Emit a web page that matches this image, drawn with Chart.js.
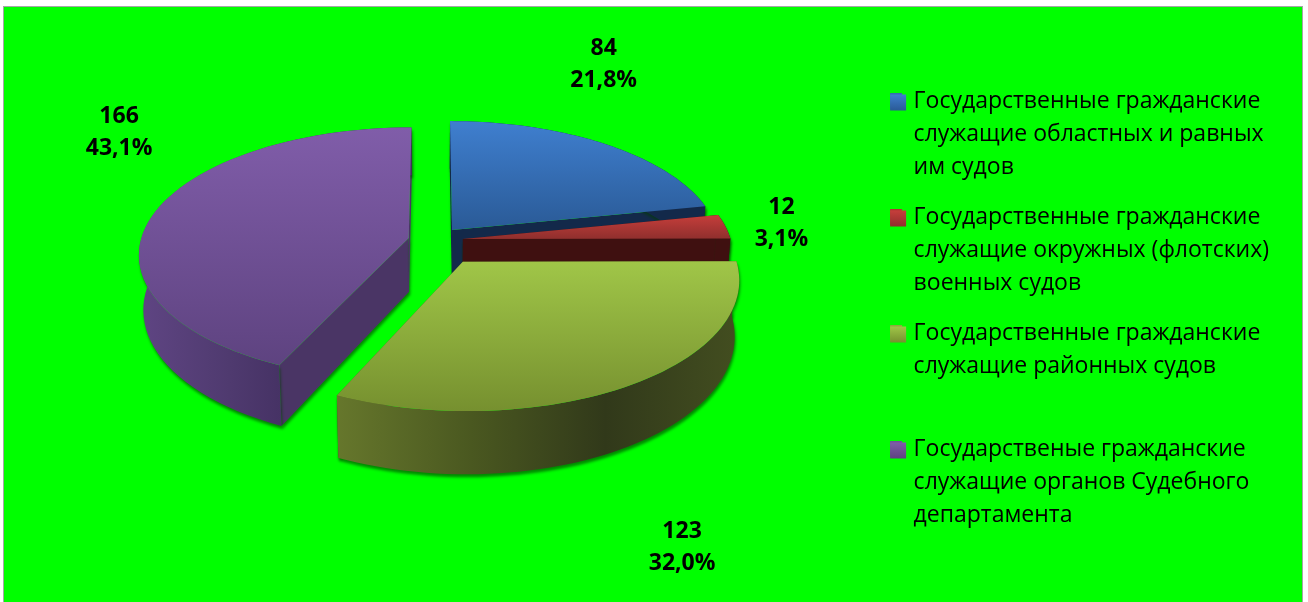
<!DOCTYPE html>
<html>
<head>
<meta charset="utf-8">
<title>Гражданские служащие</title>
<script src="https://cdn.jsdelivr.net/npm/chart.js@4"></script>
<style>
  html, body { margin: 0; padding: 0; background: #fff; overflow: hidden; }
  #frame { position: absolute; left: 3px; top: 6px; width: 1298px; height: 596px; background: #00ff00; border: 1px solid #a6a6a6; border-bottom: 0; }
  #pie { position: absolute; left: 0; top: 0; }
</style>
</head>
<body>
<div id="frame"></div>
<canvas id="pie" width="1308" height="602"></canvas>
<script>
// DATA
const categories = [
  ["Государственные гражданские", "служащие областных и равных", "им судов"],
  ["Государственные гражданские", "служащие окружных (флотских)", "военных судов"],
  ["Государственные гражданские", "служащие районных судов", ""],
  ["Государственые гражданские", "служащие органов Судебного", "департамента"]
];
const values = [84, 12, 123, 166];
const percentLabels = ["21,8%", "3,1%", "32,0%", "43,1%"];

// STYLE
const explode = [29, 29, 52, 25];
const legendColors = ["#376cb0", "#b23634", "#8cab3d", "#6f519a"];
const topColors = [["#3f7fcf", "#2a5a96"], ["#c63e3b", "#8f2f2d"], ["#a0c648", "#76902f"], ["#805da9", "#5e4380"]];
const wallColors = [
  ["#13294a", "#13294a"],
  ["#3f1010", "#3f1010"],
  ["#66772c", "#4a5820", "#31391a", "#434e20"],
  ["#5f4583", "#4f3a6f", "#3f2c5d", "#43305f"]
];
const endWallColors = ["#13294a", "#3f1010", "#4a5820", "#4a3565"];
const labelShift = [[0, -79], [56, -3], [50, 163], [-36, -80]];
const drawOrder = [0, 1, 3, 2];

// fake 3D view of the pie plane
const view = { shiftX: -3, shiftY: -72.5, scaleX: 1.019, scaleY: 0.475, persp: 0.125, depth: 54, shrink: 0.985 };

function project(arc, u, v, low) {
  const w = 1 + view.persp * v;
  const k = low ? view.shrink : 1;
  const r = arc.outerRadius;
  return {
    x: arc.x + view.shiftX + r * view.scaleX * u / w * k,
    y: arc.y + view.shiftY - r * view.scaleY * v / w + (low ? view.depth / w : 0)
  };
}

function slicePoint(arc, angle, radius, low) {
  const off = arc.options.offset / arc.outerRadius;
  const mid = (arc.startAngle + arc.endAngle) / 2 + Math.PI / 2;
  const a = angle + Math.PI / 2;
  return project(arc, off * Math.sin(mid) + radius * Math.sin(a), off * Math.cos(mid) + radius * Math.cos(a), low);
}

function arcPoints(arc, low) {
  const pts = [];
  const steps = 60;
  for (let i = 0; i <= steps; i++) {
    const angle = arc.startAngle + (arc.endAngle - arc.startAngle) * i / steps;
    pts.push(slicePoint(arc, angle, 1, low));
  }
  return pts;
}

function fillPath(ctx, pts, fill) {
  ctx.beginPath();
  pts.forEach((p, i) => (i ? ctx.lineTo(p.x, p.y) : ctx.moveTo(p.x, p.y)));
  ctx.closePath();
  ctx.fillStyle = fill;
  ctx.fill();
}

function drawSlice(ctx, arc, i) {
  const upper = arcPoints(arc, false);
  const lower = arcPoints(arc, true);
  const apexUp = slicePoint(arc, 0, 0, false);
  const apexLow = slicePoint(arc, 0, 0, true);
  const xs = upper.map(p => p.x);
  const ys = upper.concat([apexUp]).map(p => p.y);

  ctx.save();
  ctx.shadowColor = "rgba(0,60,0,0.6)";
  ctx.shadowBlur = 3;
  ctx.shadowOffsetX = 1;
  ctx.shadowOffsetY = 3;

  // side faces first, the top covers what is behind it
  fillPath(ctx, [apexUp, upper[0], lower[0], apexLow], endWallColors[i]);
  fillPath(ctx, [apexUp, upper[upper.length - 1], lower[lower.length - 1], apexLow], endWallColors[i]);

  const wall = ctx.createLinearGradient(Math.min(...xs), 0, Math.max(...xs), 0);
  wallColors[i].forEach((c, n) => wall.addColorStop(n / (wallColors[i].length - 1), c));
  fillPath(ctx, upper.concat(lower.slice().reverse()), wall);
  ctx.restore();

  const top = ctx.createLinearGradient(0, Math.min(...ys), 0, Math.max(...ys));
  top.addColorStop(0, topColors[i][0]);
  top.addColorStop(1, topColors[i][1]);
  fillPath(ctx, [apexUp].concat(upper), top);
}

const pie3d = {
  id: "pie3d",
  beforeDatasetDraw(chart) {
    const arcs = chart.getDatasetMeta(0).data;
    drawOrder.forEach(i => drawSlice(chart.ctx, arcs[i], i));
    return false;
  },
  afterDatasetsDraw(chart) {
    const ctx = chart.ctx;
    ctx.save();
    ctx.fillStyle = "#000";
    ctx.font = "bold 23px 'Open Sans'";
    ctx.textAlign = "center";
    ctx.textBaseline = "middle";
    chart.getDatasetMeta(0).data.forEach((arc, i) => {
      const p = slicePoint(arc, (arc.startAngle + arc.endAngle) / 2, 1, false);
      const x = p.x + labelShift[i][0];
      const y = p.y + labelShift[i][1];
      ctx.fillText(String(values[i]), x, y - 16);
      ctx.fillText(percentLabels[i], x, y + 16);
    });
    ctx.restore();
  },
  // legend swatches with the same shading as the slices
  afterDraw(chart) {
    const ctx = chart.ctx;
    chart.legend.legendHitBoxes.forEach((box, i) => {
      const y = box.top + 5;
      const g = ctx.createLinearGradient(0, y, 0, y + 16);
      g.addColorStop(0, topColors[i][0]);
      g.addColorStop(1, topColors[i][1]);
      ctx.fillStyle = g;
      ctx.fillRect(box.left, y, 16, 16);
    });
  }
};

new Chart(document.getElementById("pie"), {
  type: "pie",
  data: {
    labels: categories,
    datasets: [{
      data: values,
      backgroundColor: legendColors,
      borderWidth: 0,
      offset: explode
    }]
  },
  options: {
    responsive: false,
    animation: false,
    layout: { padding: { top: 24, right: 29 } },
    plugins: {
      tooltip: { enabled: false },
      legend: {
        position: "right",
        labels: {
          boxWidth: 12,
          boxHeight: 16,
          padding: 17,
          color: "#000",
          font: { family: "'Open Sans'", size: 23, lineHeight: 33 / 23 }
        }
      }
    }
  },
  plugins: [pie3d]
});
</script>
</body>
</html>
